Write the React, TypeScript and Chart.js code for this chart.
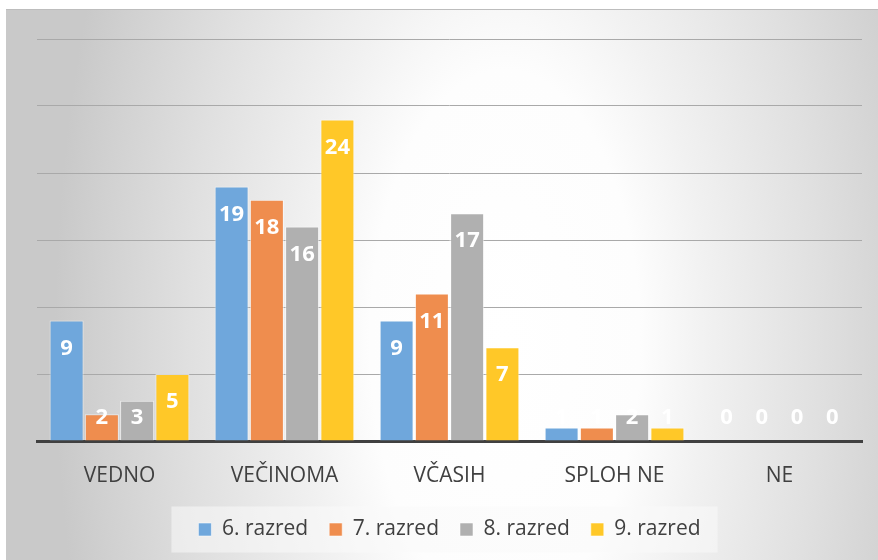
import React, { useEffect, useRef } from "react";
import { Chart, registerables } from "chart.js";

Chart.register(...registerables);

const categories = ["VEDNO", "VEČINOMA", "VČASIH", "SPLOH NE", "NE"];
const seriesNames = ["6. razred", "7. razred", "8. razred", "9. razred"];
const razred6 = [9, 19, 9, 1, 0];
const razred7 = [2, 18, 11, 1, 0];
const razred8 = [3, 16, 17, 2, 0];
const razred9 = [5, 24, 7, 1, 0];
const seriesValues = [razred6, razred7, razred8, razred9];
const seriesColors = ["#6fa7dc", "#ef8d4e", "#b0b0b0", "#ffc828"];
const yMin = 0;
const yMax = 30;
const yStep = 5;

const FONT = "'Open Sans', 'DejaVu Sans', sans-serif";

const bgPlugin = {
  id: "bgPlugin",
  beforeDraw(chart: any) {
    const ctx = chart.ctx;
    const w = chart.width;
    const h = chart.height;
    const cx = 505;
    const cy = 340;
    const sy = 2;
    ctx.save();
    ctx.translate(cx, cy);
    ctx.scale(1, sy);
    const g = ctx.createRadialGradient(0, 0, 0, 0, 0, 450);
    g.addColorStop(0, "#ffffff");
    g.addColorStop(0.3, "#fdfdfd");
    g.addColorStop(0.45, "#f1f1f1");
    g.addColorStop(0.7, "#e0e0e0");
    g.addColorStop(0.9, "#d1d1d1");
    g.addColorStop(1, "#c9c9c9");
    ctx.fillStyle = g;
    ctx.fillRect(6 - cx, (10 - cy) / sy, w - 6, (h - 10) / sy);
    ctx.restore();
    ctx.save();
    ctx.fillStyle = "#bdbdbd";
    ctx.fillRect(6, 9, w - 6, 1);
    const lg = chart.legend;
    if (lg && lg.legendHitBoxes && lg.legendHitBoxes.length) {
      const boxes = lg.legendHitBoxes;
      const first = boxes[0];
      const last = boxes[boxes.length - 1];
      const l = first.left - 27;
      const r = last.left + last.width + 17;
      const my = first.top + first.height / 2;
      ctx.fillStyle = "rgba(250,250,250,0.55)";
      ctx.fillRect(l, my - 23, r - l, 46);
    }
    ctx.restore();
  },
};

const labelPlugin = {
  id: "labelPlugin",
  afterDatasetsDraw(chart: any) {
    const ctx = chart.ctx;
    ctx.save();
    ctx.font = `bold 22px ${FONT}`;
    ctx.fillStyle = "#ffffff";
    ctx.textAlign = "center";
    ctx.textBaseline = "middle";
    chart.data.datasets.forEach((ds: any, i: number) => {
      const meta = chart.getDatasetMeta(i);
      meta.data.forEach((bar: any, j: number) => {
        const p = bar.getProps(["x", "y", "base"], true);
        const y = Math.min(p.y + 28, p.base - 23);
        ctx.fillText(String(ds.data[j]), p.x, y);
      });
    });
    ctx.restore();
  },
};

export default function App() {
  const ref = useRef<HTMLCanvasElement | null>(null);
  useEffect(() => {
    if (!ref.current) return;
    const chart = new Chart(ref.current, {
      type: "bar",
      data: {
        labels: categories,
        datasets: seriesNames.map((name, i) => ({
          label: name,
          data: seriesValues[i],
          backgroundColor: seriesColors[i],
          borderColor: "rgba(255,255,255,0.55)",
          borderWidth: 1,
          categoryPercentage: 0.855,
          barPercentage: 0.965,
        })),
      },
      options: {
        animation: false,
        responsive: true,
        maintainAspectRatio: false,
        layout: { padding: { left: 37, right: 16, top: 39, bottom: 10 } },
        plugins: {
          legend: {
            position: "bottom",
            labels: {
              font: { family: FONT, size: 21 },
              color: "#404040",
              boxWidth: 13,
              boxHeight: 13,
              padding: 21,
            },
          },
          tooltip: { enabled: false },
        },
        scales: {
          x: {
            grid: { display: false },
            border: { display: true, color: "#404040", width: 3 },
            ticks: { font: { family: FONT, size: 21 }, color: "#404040", padding: 14 },
            afterFit: (s: any) => {
              s.height = 57;
            },
          },
          y: {
            min: yMin,
            max: yMax,
            ticks: { display: false, stepSize: yStep },
            grid: { color: "#a9a9a9", drawTicks: false },
            border: { display: false },
            afterFit: (s: any) => {
              s.width = 0;
            },
          },
        },
      },
      plugins: [bgPlugin, labelPlugin],
    } as any);
    return () => chart.destroy();
  }, []);
  return (
    <div style={{ position: "fixed", left: 0, top: 0, width: 878, height: 560 }}>
      <canvas ref={ref} />
    </div>
  );
}
